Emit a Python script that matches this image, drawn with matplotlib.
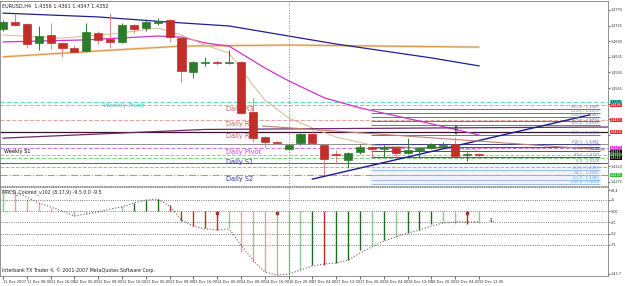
import matplotlib
matplotlib.use('Agg')
import matplotlib.pyplot as plt
import matplotlib.transforms as mtransforms
import numpy as np

# EURUSD H4, 11 Dec 2007 .. 19 Dec 2007
opens = [1.4715, 1.4735, 1.4730, 1.4675, 1.4698, 1.4675, 1.4661, 1.4652, 1.4704, 1.4686,
         1.4678, 1.4727, 1.4718, 1.4733, 1.4741, 1.4689, 1.4591, 1.4617, 1.4620, 1.4617,
         1.4620, 1.4476, 1.4404, 1.4390, 1.4370, 1.4387, 1.4413, 1.4381, 1.4355, 1.4338,
         1.4361, 1.4375, 1.4370, 1.4373, 1.4358, 1.4367, 1.4373, 1.4378, 1.4384, 1.4352,
         1.4355]
highs = [1.4741, 1.4758, 1.4733, 1.4724, 1.4733, 1.4678, 1.4669, 1.4733, 1.4710, 1.4761,
         1.4733, 1.4730, 1.4744, 1.4747, 1.4744, 1.4692, 1.4623, 1.4635, 1.4626, 1.4655,
         1.4623, 1.4517, 1.4407, 1.4393, 1.4384, 1.4416, 1.4425, 1.4384, 1.4367, 1.4361,
         1.4384, 1.4378, 1.4381, 1.4375, 1.4401, 1.4375, 1.4387, 1.4390, 1.4404, 1.4361,
         1.4358]
lows = [1.4710, 1.4724, 1.4661, 1.4655, 1.4658, 1.4635, 1.4646, 1.4649, 1.4672, 1.4661,
        1.4675, 1.4704, 1.4710, 1.4727, 1.4678, 1.4563, 1.4574, 1.4609, 1.4612, 1.4614,
        1.4470, 1.4390, 1.4375, 1.4384, 1.4367, 1.4381, 1.4384, 1.4295, 1.4329, 1.4315,
        1.4355, 1.4347, 1.4347, 1.4344, 1.4355, 1.4347, 1.4370, 1.4373, 1.4347, 1.4335,
        1.4347]
closes = [1.4735, 1.4727, 1.4672, 1.4695, 1.4675, 1.4661, 1.4649, 1.4707, 1.4684, 1.4678,
          1.4727, 1.4715, 1.4735, 1.4738, 1.4692, 1.4594, 1.4620, 1.4620, 1.4617, 1.4620,
          1.4473, 1.4401, 1.4390, 1.4387, 1.4381, 1.4413, 1.4387, 1.4341, 1.4352, 1.4358,
          1.4375, 1.4370, 1.4373, 1.4358, 1.4367, 1.4373, 1.4384, 1.4381, 1.4350, 1.4355,
          1.4352]

date_labels = ['11 Dec 2007', '11 Dec 08:00', '11 Dec 16:00', '12 Dec 00:00', '12 Dec 08:00',
               '12 Dec 16:00', '13 Dec 00:00', '13 Dec 08:00', '13 Dec 16:00', '14 Dec 00:00',
               '14 Dec 08:00', '14 Dec 16:00', '16 Dec 20:00', '17 Dec 04:00', '17 Dec 12:00',
               '17 Dec 20:00', '18 Dec 04:00', '18 Dec 12:00', '18 Dec 20:00', '19 Dec 04:00',
               '19 Dec 12:00']
week_start_bar = 24

# moving averages (bar index, price)
slow_bars = [0, 8, 14, 19, 24, 28, 32, 36, 40]
slow_vals = [1.4761, 1.4750, 1.4735, 1.4724, 1.4695, 1.4672, 1.4652, 1.4632, 1.4609]
long_bars = [0, 8, 15, 24, 32, 40]
long_vals = [1.4635, 1.4652, 1.4666, 1.4669, 1.4666, 1.4663]
mid_bars = [0, 7, 13, 15, 17, 19, 22, 24, 27, 30, 35, 40]
mid_vals = [1.4678, 1.4684, 1.4695, 1.4692, 1.4675, 1.4666, 1.4603, 1.4566, 1.4517, 1.4488,
            1.4450, 1.4410]
fast_bars = [0, 5, 10, 13, 15, 17, 19, 21, 22, 24, 26, 28, 31, 35, 40]
fast_vals = [1.4698, 1.4689, 1.4704, 1.4718, 1.4698, 1.4669, 1.4646, 1.4554, 1.4511, 1.4459,
             1.4430, 1.4404, 1.4381, 1.4373, 1.4367]
purple_bars = [0, 17, 35, 51]
purple_vals = [1.4401, 1.4426, 1.4430, 1.4433]

# trend lines
up_bars = [26, 49.3]
up_vals = [1.4283, 1.4468]
dn_bars = [21.8, 50.5]
dn_vals = [1.4436, 1.4367]

# pivot levels
pivot_names = ['Daily R3', 'Daily R2', 'Daily R1', 'Daily Pivot', 'Daily S1', 'Daily S2']
pivot_prices = [1.4496, 1.4453, 1.4419, 1.4373, 1.4344, 1.4295]
weekly_pivot = 1.4505
weekly_s1 = 1.4373
extra_prices = [1.4384, 1.4352, 1.4329, 1.4318]

# fibonacci block on the right
fib_names = ['261.8', '223.6', '200.0', '176.4', '161.8', '123.6', '100.0', '76.4', '61.8',
             '38.2', '0.0', '-23.6', '-38.2', '-61.8', '-100.0']
fib_prices = [1.4485, 1.4473, 1.4462, 1.4450, 1.4439, 1.4410, 1.4384, 1.4375, 1.4364,
              1.4347, 1.4329, 1.4309, 1.4295, 1.4280, 1.4269]
fib_start, fib_end = 30.9, 50.2

# price boxes on the right scale
box_prices = [1.4505, 1.4496, 1.4453, 1.4419, 1.4373, 1.4361, 1.4352, 1.4344, 1.4295]
box_colors = ['#33d6d6', '#d83030', '#d83030', '#d83030', '#d633d6', '#000000', '#116611',
              '#000000', '#33b833']
box_text = ['black', 'white', 'white', 'white', 'white', 'white', 'white', 'white', 'white']
price_ticks = [1.4770, 1.4725, 1.4680, 1.4635, 1.4590, 1.4545, 1.4500, 1.4455, 1.4410,
               1.4365, 1.4320, 1.4275]

# MACD colored
macd_hist = [42.0, 42.0, 26.5, 17.7, 6.6, -1.1, -11.1, -6.6, -2.2, -0.5,
             11.1, 17.7, 24.3, 26.5, 13.3, -22.1, -33.2, -37.6, -42.0, -37.6,
             -90.7, -112.8, -134.9, -141.6, -141.6, -130.5, -119.4, -119.4, -115.0, -108.4,
             -86.3, -75.2, -64.1, -57.5, -48.7, -42.0, -28.8, -24.3, -28.8, -28.8,
             -26.5]
macd_sig = [46.5, 42.0, 31.0, 17.7, 8.8, 0.0, -11.1, -6.6, -2.2, 4.4,
            8.8, 17.7, 24.3, 26.5, 11.1, -19.9, -33.2, -39.8, -42.0, -39.8,
            -75.2, -108.4, -134.9, -141.6, -139.4, -130.5, -121.7, -117.2, -115.0, -108.4,
            -92.9, -79.6, -66.4, -57.5, -48.7, -42.0, -33.2, -26.5, -24.3, -24.3,
            -24.3]
macd_kind = 'grrrrrrggggGGGRRRRRgrrrrggGRGGGgGgGGGgrRg'
macd_levels = [25, 0, -25, -50, -75]
macd_marks = [18, 23, 39]

kind_color = {'G': '#1e6e1e', 'g': '#8ccc8c', 'R': '#c42a2a', 'r': '#e8a0a0'}

fig = plt.figure(figsize=(6.25, 2.86), dpi=100)
fig.patch.set_facecolor('white')
ax = fig.add_axes([0.0, 100 / 286, 608 / 625, 185 / 286])
axm = fig.add_axes([0.0, 10 / 286, 608 / 625, 89 / 286], sharex=ax)

x = np.arange(len(opens))
o = np.array(opens)
c = np.array(closes)
up = c >= o

# pivots / levels first, candles on top
ax.axhline(weekly_pivot, color='#66d0d8', ls='--', lw=0.8, dashes=(4, 2))
ax.text(8.4, weekly_pivot - 0.0002, 'Weekly Pivot', color='#40c0d0', fontsize=4.6,
        va='top', ha='left')
line_cols = ['#e4a4a4', '#e4a4a4', '#3a1030', '#c47ad8', '#88c888', '#b89870']
line_sty = ['--', '--', '-', '--', '--', '-.']
text_cols = ['#b86060', '#b86060', '#b86060', '#cc44cc', '#333399', '#333399']
for name, p, lc, ls, tc in zip(pivot_names, pivot_prices, line_cols, line_sty, text_cols):
    ax.axhline(p, color=lc, ls=ls, lw=0.9 if ls == '-' else 0.8)
    ax.text(18.7, p - 0.00025, name, color=tc, fontsize=4.8, va='top', ha='left')
ax.text(0.1, weekly_s1 - 0.0004, 'Weekly S1', color='black', fontsize=3.6, va='top')
for p, col, ls in zip(extra_prices, ['#909090', '#90d090', '#606060', '#c8a888'],
                      ['-', '--', '-', '--']):
    ax.axhline(p, color=col, ls=ls, lw=0.7)

# fibonacci block
ax.fill_between([fib_start, fib_end], fib_prices[-1], fib_prices[10], color='#eef5fc', zorder=0)
for i, (n, p) in enumerate(zip(fib_names, fib_prices)):
    col = '#5a5a8a' if i < 6 else ('#303080' if i < 11 else '#8ab4e0')
    tcol = '#6a78b8' if i < 11 else '#6a9cd8'
    ax.hlines(p, fib_start, fib_end, color=col, lw=0.6)
    ax.text(fib_end - 0.1, p + 0.00003, f'{n} - {p:.4f}', color=tcol, fontsize=2.7,
            ha='right', va='bottom')

# moving averages and trend lines
ax.plot(long_bars, long_vals, color='#f5dcbc', lw=1.8, solid_capstyle='butt')
ax.plot(long_bars, long_vals, color='#d8984c', lw=0.8)
ax.plot(slow_bars, slow_vals, color='#20208c', lw=0.9)
ax.plot(mid_bars, mid_vals, color='#cc33cc', lw=0.9)
ax.plot(fast_bars, fast_vals, color='#d6b890', lw=0.7)
ax.plot(purple_bars, purple_vals, color='#6a2a6a', lw=0.9)
ax.plot(up_bars, up_vals, color='#1a1a8c', lw=1.0)
ax.plot(dn_bars, dn_vals, color='#c08070', lw=0.8)

# candles
body_col = np.where(up, '#2c7c2c', '#c22e2a')
wick_col = np.where(up, '#2c7c2c', '#e08484')
ax.vlines(x, lows, highs, colors=wick_col, lw=0.7, zorder=4)
ax.bar(x, c - o, bottom=o, width=0.68, color=body_col, edgecolor=body_col, lw=0.5, zorder=5)
ax.text(38, highs[38] + 0.0002, '\u21e9', ha='center', va='bottom', fontsize=7,
        color='black', zorder=6)

ax.axvline(week_start_bar, color='#808080', ls=':', lw=0.7)
ax.text(0.003, 0.985, 'EURUSD,H4  1.4356 1.4361 1.4347 1.4352', transform=ax.transAxes,
        fontsize=3.6, va='top', ha='left', color='#202020')

# price scale: plain labels where no coloured box sits
ax.set_xlim(-0.25, 50.84)
ax.set_ylim(1.42631, 1.47959)
ax.yaxis.tick_right()
shown = [p for p in price_ticks if min(abs(p - b) for b in box_prices) > 0.0012]
ax.set_yticks(price_ticks)
ax.set_yticklabels([f'{p:.4f}' if p in shown else '' for p in price_ticks], fontsize=2.4)
ax.tick_params(axis='y', length=1.5, width=0.5, pad=0.6, colors='#303030')
ax.tick_params(axis='x', bottom=False, labelbottom=False)
trans = mtransforms.blended_transform_factory(ax.transAxes, ax.transData)
for p, bc, tc in zip(box_prices, box_colors, box_text):
    ax.text(1.003, p, f'{p:.4f}', transform=trans, fontsize=2.4, color=tc, va='center',
            ha='left', clip_on=False, zorder=7,
            bbox=dict(boxstyle='square,pad=0.08', fc=bc, ec='none'))
for s in ax.spines.values():
    s.set_color('#808080')
    s.set_linewidth(0.6)
ax.spines['bottom'].set_linestyle(':')

# MACD panel
hist_col = [kind_color[k] for k in macd_kind]
axm.vlines(x, 0, macd_hist, colors=hist_col, lw=1.0)
axm.plot(x, macd_sig, color='#606060', ls=':', lw=0.8)
for lv in macd_levels:
    axm.axhline(lv, color='#505050', ls=':', lw=0.6)
axm.scatter(macd_marks, [macd_hist[i] * 0 - 4 for i in macd_marks], s=5, color='#d04040',
            edgecolors='#700000', linewidths=0.4, zorder=5)
axm.axvline(week_start_bar, color='#808080', ls=':', lw=0.7)
axm.text(40.8, macd_sig[-1] + 3, '-1.', fontsize=3.6, va='center', ha='left')
axm.text(0.003, 0.975, 'MACD_Colored_v102 (8,17,9) -9.5 0.0 -9.5', transform=axm.transAxes,
         fontsize=3.4, va='top', ha='left', color='#202020')
axm.text(0.003, 0.03, 'Interbank FX Trader 4, \u00a9 2001-2007 MetaQuotes Software Corp.',
         transform=axm.transAxes, fontsize=3.4, va='bottom', ha='left', color='#202020')
axm.set_ylim(-143.8, 53.1)
axm.yaxis.tick_right()
mticks = [46.0] + macd_levels + [-139.0]
axm.set_yticks(mticks)
axm.set_yticklabels(['48.4', '25', '0.00', '-25', '-50', '-75', '-143.7'], fontsize=2.4)
axm.tick_params(axis='y', length=1.5, width=0.5, pad=0.6, colors='#303030')
axm.set_xticks(np.arange(0, 41, 2))
axm.set_xticklabels(date_labels, fontsize=2.6, ha='left')
axm.tick_params(axis='x', length=2, width=0.5, pad=1, colors='#303030')
for s in axm.spines.values():
    s.set_color('#808080')
    s.set_linewidth(0.6)
axm.spines['top'].set_linestyle(':')

fig.savefig('out.png', dpi=100)
